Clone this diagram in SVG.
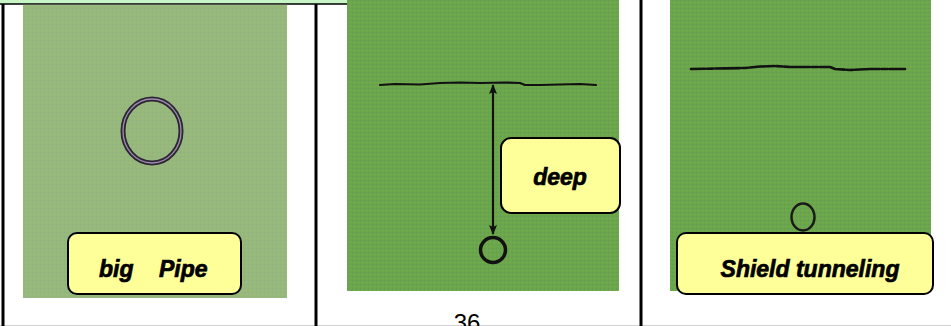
<svg xmlns="http://www.w3.org/2000/svg" width="951" height="326" viewBox="0 0 951 326">
<defs>
<style>
.frame{stroke:#000;stroke-width:3;fill:none}
.label{fill:#ffff99;stroke:#000;stroke-width:2}
.lt{font-family:"Liberation Sans",Arial,sans-serif;font-weight:bold;font-style:italic;font-size:23px;fill:#000;stroke:#000;stroke-width:0.7}
.ink{fill:none;stroke:#111;stroke-linecap:round;stroke-linejoin:round}
</style>
<pattern id="tex1" width="4" height="4" patternUnits="userSpaceOnUse">
<rect width="4" height="4" fill="#97b87d"/>
<rect x="0" y="0" width="1" height="1" fill="#8fae8a"/>
<rect x="2" y="2" width="1" height="1" fill="#a3bf6f"/>
</pattern>
<pattern id="tex2" width="4" height="4" patternUnits="userSpaceOnUse">
<rect width="4" height="4" fill="#6ba64c"/>
<rect x="0" y="0" width="1" height="1" fill="#5f9a5c"/>
<rect x="2" y="2" width="1" height="1" fill="#7db245"/>
</pattern>
<marker id="ah" viewBox="0 0 10 8" refX="9" refY="4" markerWidth="10" markerHeight="8" orient="auto-start-reverse" markerUnits="userSpaceOnUse">
<path d="M0,0 L10,4 L0,8 L2,4 z" fill="#111"/>
</marker>
</defs>
<rect x="0" y="0" width="951" height="326" fill="#fff"/>
<line x1="0" y1="325.5" x2="951" y2="325.5" stroke="#d0d0d0" stroke-width="1"/>
<g id="frames">
<line class="frame" x1="3" y1="4" x2="3" y2="326"/>
<line class="frame" x1="316" y1="4" x2="316" y2="326"/>
<line class="frame" x1="641" y1="0" x2="641" y2="326"/>
</g>
<g id="title-box">
<path d="M-5,-20 H513 V-4 Q513,4 505,4 H-5 Z" fill="#c8f5c8" stroke="#000" stroke-width="1.5"/>
</g>
<g id="panel-big-pipe">
<rect x="23" y="4.8" width="264" height="293.2" fill="url(#tex1)"/>
<ellipse cx="152" cy="131" rx="29" ry="32" fill="none" stroke="#2e2636" stroke-width="5"/>
<ellipse cx="152" cy="131" rx="29" ry="32" fill="none" stroke="#9c8fae" stroke-width="1.3"/>
<rect class="label" x="68" y="233" width="173" height="61" rx="9"/>
<text class="lt" y="277"><tspan x="99">big</tspan><tspan x="159">Pipe</tspan></text>
</g>
<g id="panel-deep">
<rect x="347" y="0" width="272" height="291" fill="url(#tex2)"/>
<path class="ink" stroke-width="2.2" d="M380,85 L395,84 L420,84.5 L440,83 L460,82.5 L480,83 L505,82.5 L520,83 L525,85 L540,85 L560,84.5 L580,84 L596,85"/>
<line x1="493" y1="85" x2="493" y2="234" stroke="#111" stroke-width="2.2" marker-start="url(#ah)" marker-end="url(#ah)"/>
<circle cx="493" cy="250" r="12.5" fill="none" stroke="#111" stroke-width="3.5"/>
<rect class="label" x="501" y="138" width="119" height="75" rx="10"/>
<text class="lt" x="560" y="185" text-anchor="middle">deep</text>
</g>
<g id="panel-shield">
<rect x="670" y="0" width="261" height="291" fill="url(#tex2)"/>
<path class="ink" stroke="#1c2a1c" stroke-width="2.6" stroke-dasharray="14 2 6 2 10 1" d="M691,69 L745,68 L760,66.5 L775,66 L790,67 L830,67 L835,69 L850,70 L870,69 L905,69"/>
<ellipse cx="803" cy="217" rx="11.5" ry="13.5" fill="none" stroke="#1a1a1a" stroke-width="2.5"/>
<rect class="label" x="677" y="233" width="256" height="61" rx="9"/>
<text class="lt" x="810" y="277" text-anchor="middle">Shield tunneling</text>
</g>
<text x="467" y="331" text-anchor="middle" font-family="Liberation Sans,Arial,sans-serif" font-size="24" fill="#000">36</text>
</svg>
